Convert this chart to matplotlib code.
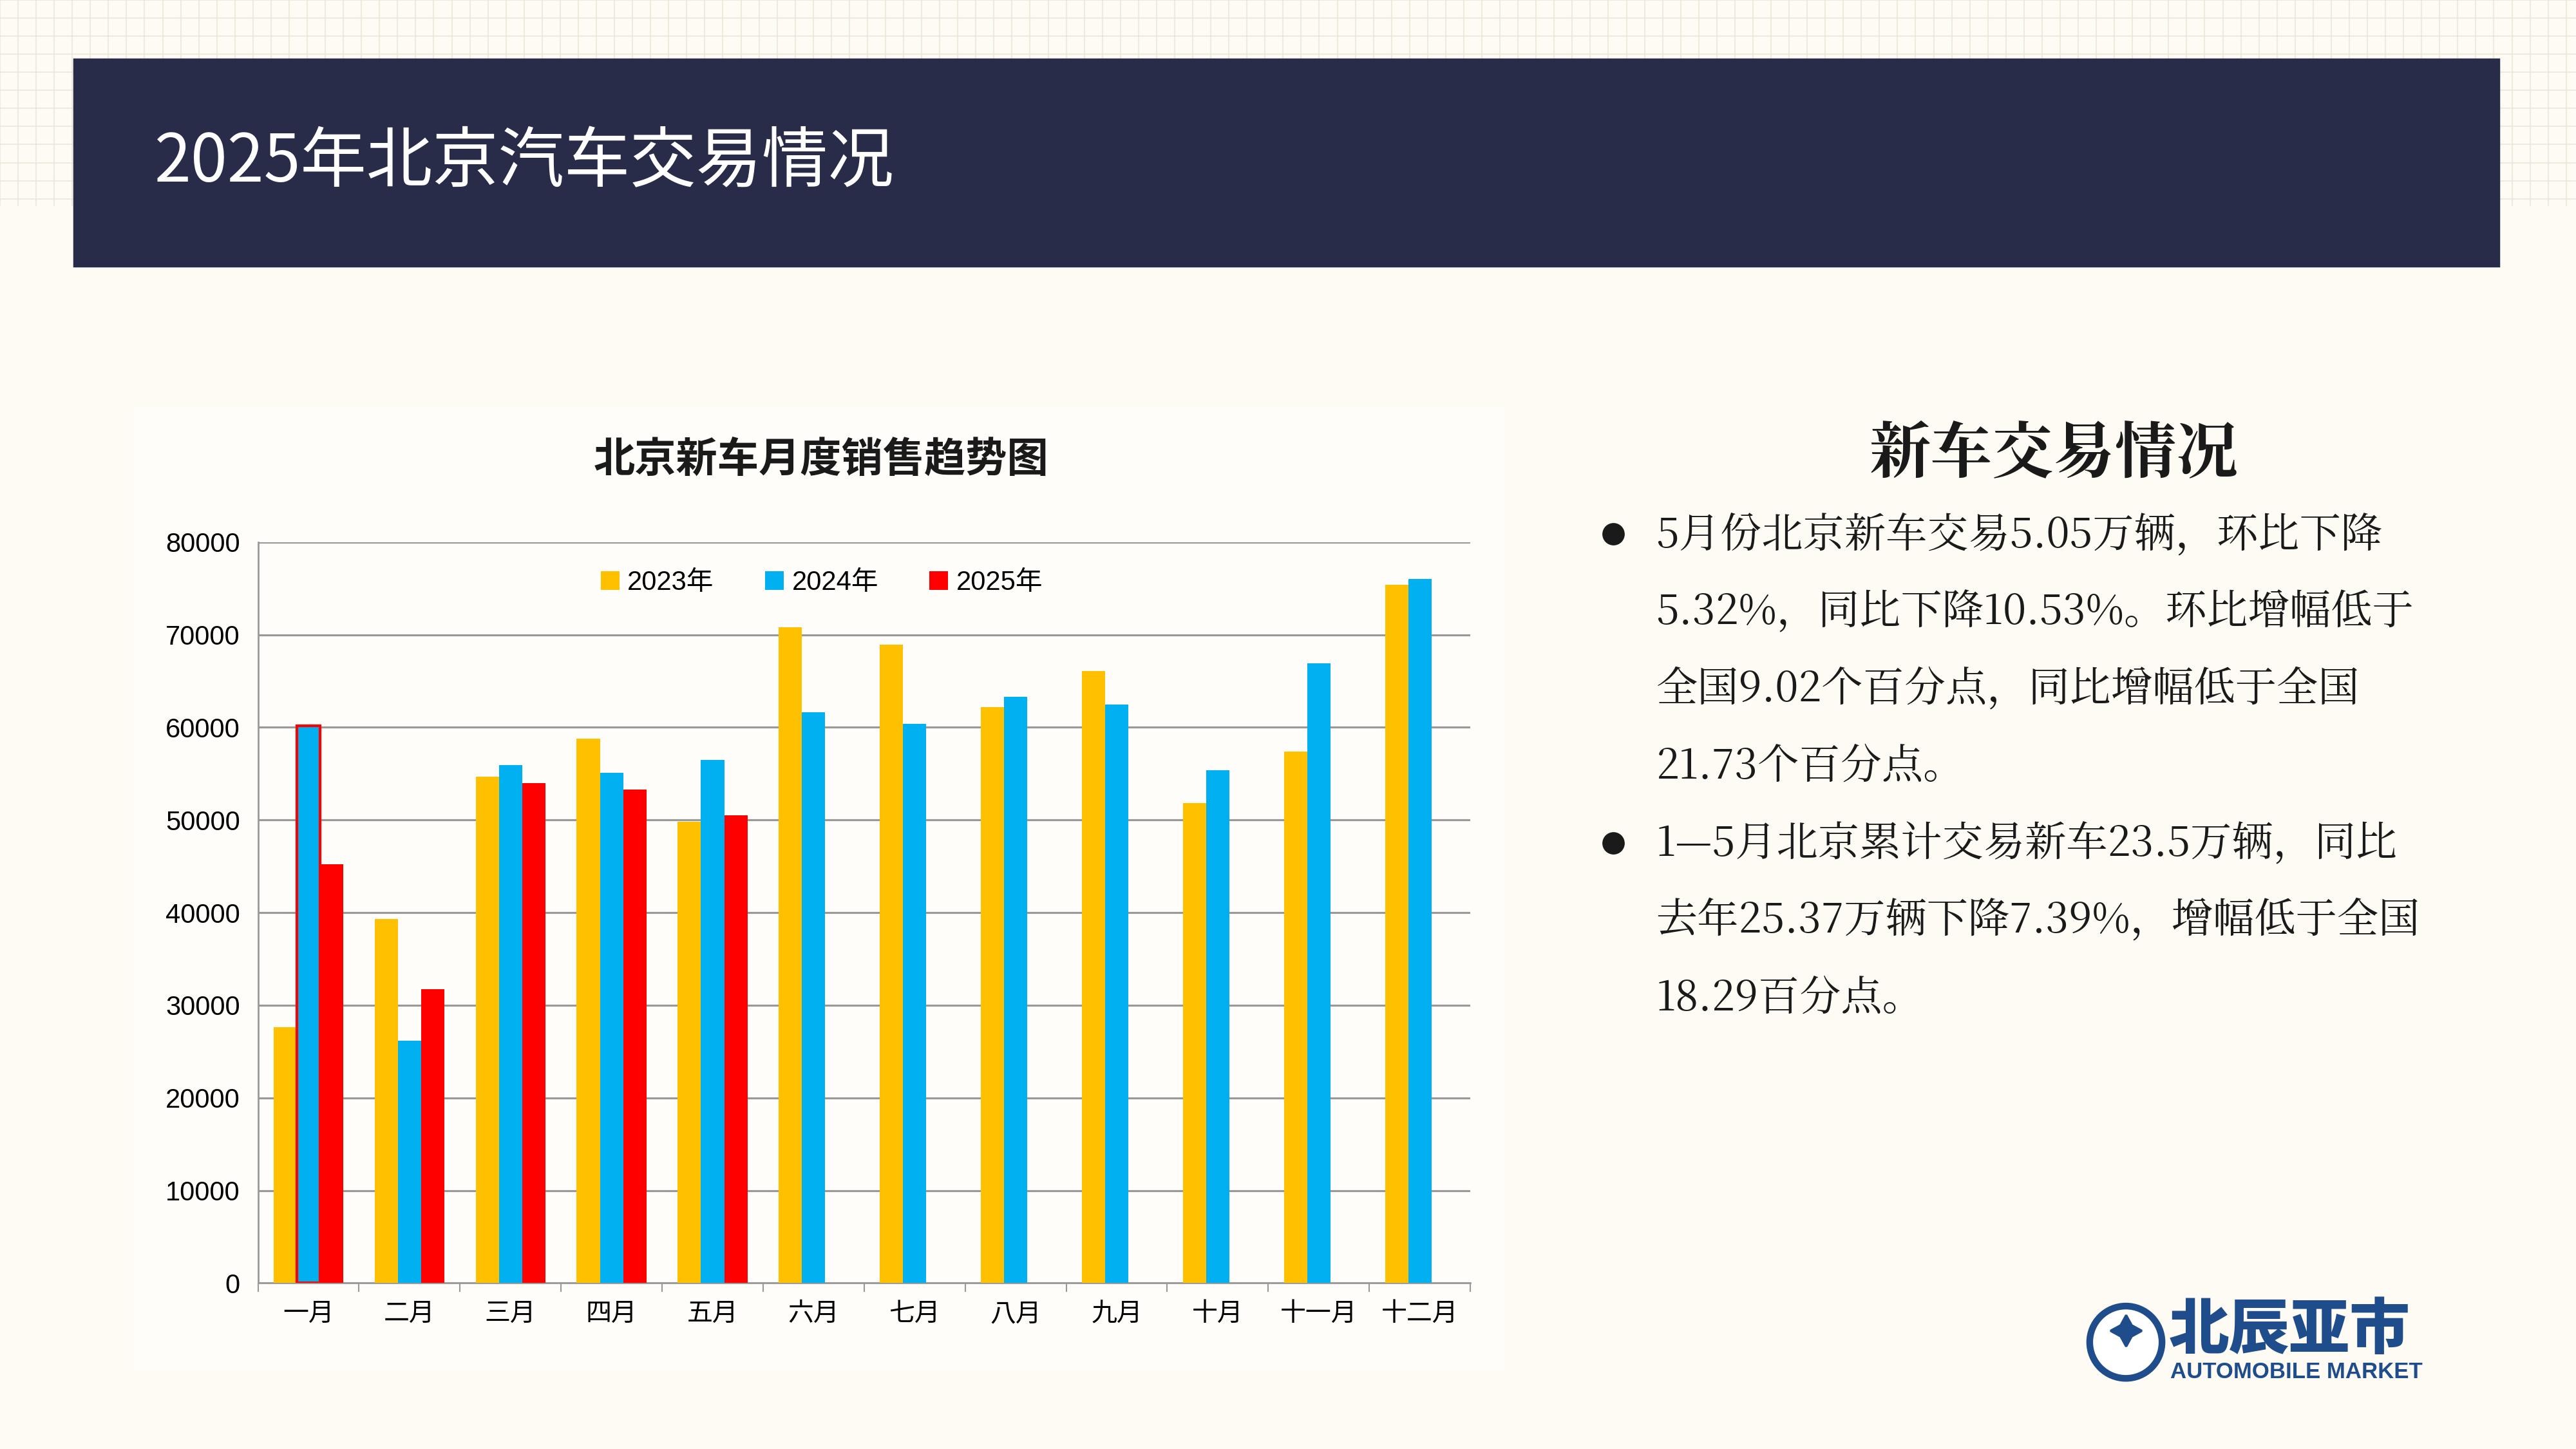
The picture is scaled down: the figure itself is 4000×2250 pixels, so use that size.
import matplotlib.pyplot as plt
import numpy as np
from matplotlib.patches import Rectangle, Circle

SANS = "Noto Sans CJK JP"
SERIF = "Noto Serif CJK JP"
plt.rcParams.update({
    "font.family": SANS,
    "axes.unicode_minus": False,
})

months = ["一月", "二月", "三月", "四月", "五月", "六月", "七月", "八月", "九月", "十月", "十一月", "十二月"]
sales_2023 = [27600, 39300, 54700, 58800, 49800, 70800, 68900, 62200, 66100, 51800, 57400, 75400]
sales_2024 = [60200, 26200, 55900, 55100, 56500, 61600, 60400, 63300, 62500, 55400, 66900, 76000]
sales_2025 = [45200, 31700, 54000, 53300, 50500]
series_names = ["2023年", "2024年", "2025年"]

bullet_lines = [
    ["5月份北京新车交易5.05万辆，环比下降", "5.32%，同比下降10.53%。环比增幅低于",
     "全国9.02个百分点，同比增幅低于全国", "21.73个百分点。"],
    ["1—5月北京累计交易新车23.5万辆，同比", "去年25.37万辆下降7.39%，增幅低于全国",
     "18.29百分点。"],
]

C23, C24, C25 = "#ffc000", "#00b0f0", "#ff0000"
BG = "#fdfbf4"
NAVY = "#282c48"

fig = plt.figure(figsize=(16, 9), dpi=250, facecolor=BG)

# background: checkered pattern at the top
bg = fig.add_axes([0, 0, 1, 1], zorder=-10)
bg.set_xlim(0, 1568)
bg.set_ylim(882, 0)
bg.axis("off")
for gx in np.arange(0, 1568, 11):
    bg.plot([gx, gx], [0, 125], color="#ece6d6", lw=0.6, alpha=0.8)
for gy in np.arange(0, 126, 11):
    bg.plot([0, 1568], [gy, gy], color="#ece6d6", lw=0.6, alpha=0.8)
bg.add_patch(Rectangle((0, 125), 1568, 757, color=BG, zorder=1))
bg.add_patch(Rectangle((45, 36), 1476, 126, color=NAVY, zorder=2))
bg.add_patch(Rectangle((82, 248), 833, 585, color="#fffdf9", zorder=2))
bg.text(94, 99, "2025年北京汽车交易情况", color="white", fontsize=29.5, va="center", ha="left", zorder=3)
bg.text(500, 280, "北京新车月度销售趋势图", color="#1a1a1a", fontsize=18.5, fontweight="bold",
        va="center", ha="center", zorder=3)

# right-side text
bg.text(1250, 277, "新车交易情况", color="#1a1a1a", fontsize=27.5, fontweight="bold", va="center", ha="center",
        family=SERIF, zorder=3)
y = 326
for para in bullet_lines:
    bg.plot(982, y - 1, "o", color="#1a1a1a", ms=9, zorder=3)
    for line in para:
        bg.text(1008, y, line, fontsize=18.5, color="#1a1a1a", va="center", ha="left", family=SERIF, zorder=3)
        y += 47

# logo
bg.add_patch(Circle((1294, 817), 22, facecolor="white", edgecolor="#1f4d8c", lw=3, zorder=3))
bg.plot(1294, 810, marker=(4, 1, 0), color="#1f4d8c", ms=14, zorder=4)
bg.text(1320, 810, "北辰亚市", fontsize=27, fontweight="black", color="#1f4d8c", va="center", ha="left", zorder=3)
bg.text(1321, 835, "AUTOMOBILE MARKET", fontsize=10, fontweight="bold", color="#1f4d8c", va="center", ha="left",
        family="Liberation Sans", zorder=3)

# chart
ax = fig.add_axes([157 / 1568, 1 - 781 / 882, (895 - 157) / 1568, (781 - 330) / 882])
ax.set_facecolor("none")
x = np.arange(len(months))
w = 0.23
ax.bar(x - w, sales_2023, w, color=C23, label=series_names[0], zorder=3)
ax.bar(x, sales_2024, w, color=C24, label=series_names[1], zorder=3)
ax.bar(x[:1], sales_2024[:1], w, facecolor="none", edgecolor=C25, linewidth=1.2, zorder=4)
ax.bar(x[:len(sales_2025)] + w, sales_2025, w, color=C25, label=series_names[2], zorder=3)

ax.set_xlim(-0.5, len(months) - 0.5)
ax.set_ylim(0, 80000)
ax.set_yticks(np.arange(0, 80001, 10000))
ax.set_xticks(x)
ax.set_xticklabels(months)
ax.set_xticks(np.arange(-0.5, len(months), 1), minor=True)
ax.tick_params(axis="x", which="major", length=0, labelsize=11.5, pad=8)
ax.tick_params(axis="x", which="minor", length=4, color="#999999")
ax.tick_params(axis="y", length=0, labelsize=12, pad=8)
for lbl in ax.get_yticklabels():
    lbl.set_family("Liberation Sans")
ax.yaxis.grid(True, color="#999999", lw=0.9, zorder=0)
for s in ["top", "right"]:
    ax.spines[s].set_visible(False)
ax.spines["left"].set_color("#999999")
ax.spines["bottom"].set_color("#999999")
ax.legend(loc="upper center", bbox_to_anchor=(0.465, 0.995), ncol=3, frameon=False,
          prop={"family": ["Liberation Sans", SANS], "size": 12},
          handlelength=0.7, handleheight=0.7, handletextpad=0.3, columnspacing=1.9)

fig.savefig("out.png", dpi=250, facecolor=BG)
